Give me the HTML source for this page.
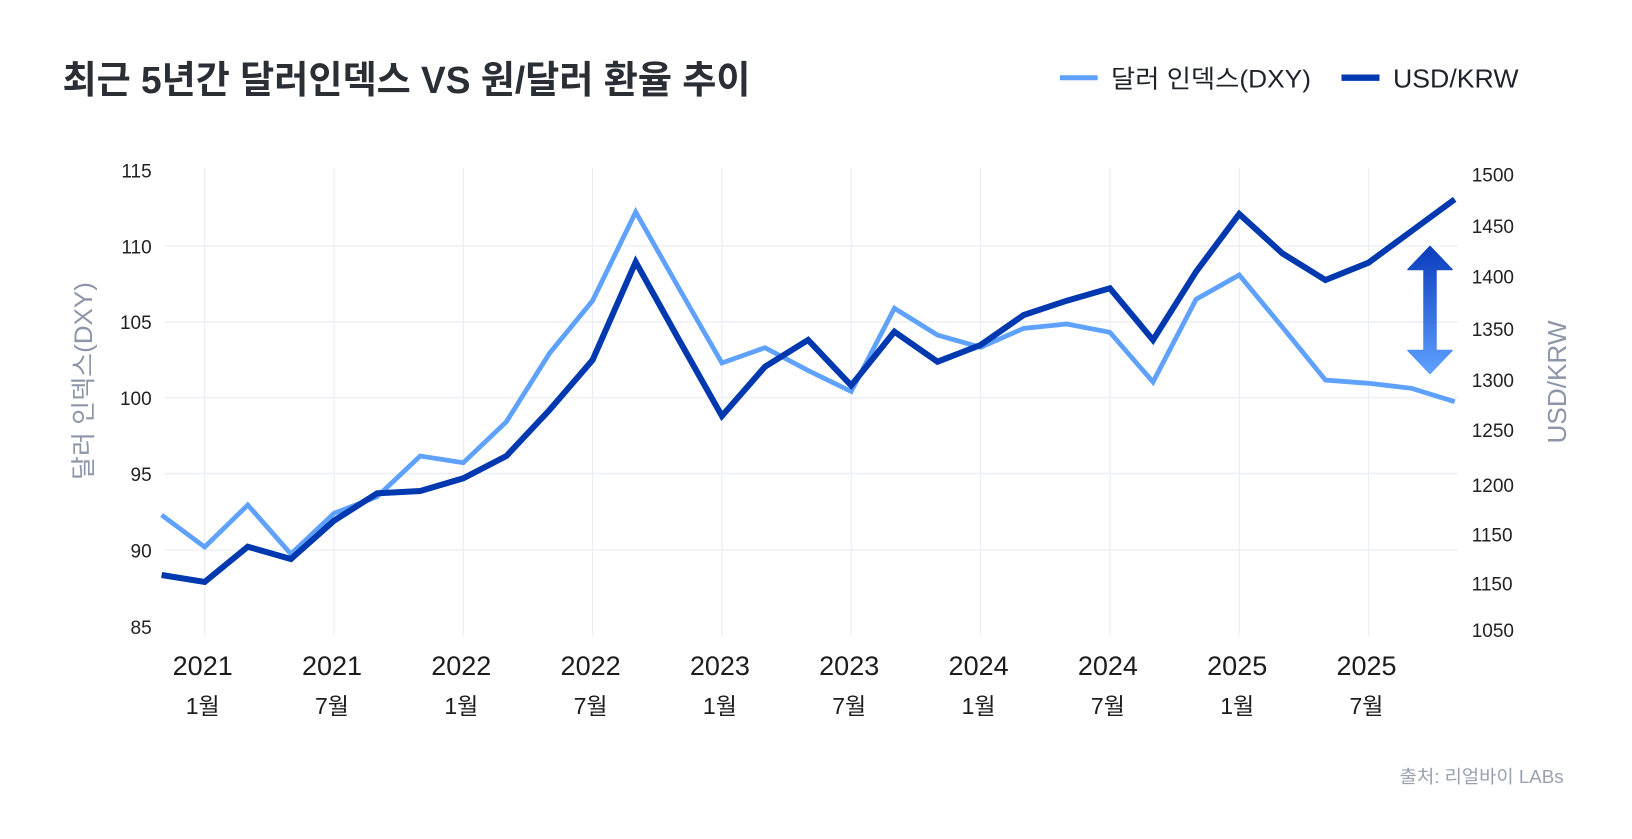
<!DOCTYPE html>
<html>
<head>
<meta charset="utf-8">
<style>
  html,body{margin:0;padding:0;background:#ffffff;}
  body{width:1632px;height:839px;overflow:hidden;}
  svg{display:block;}
  text{font-family:"Liberation Sans","Noto Sans CJK KR",sans-serif;}
</style>
</head>
<body>
<svg width="1632" height="839" viewBox="0 0 1632 839" xmlns="http://www.w3.org/2000/svg">
  <defs>
    <linearGradient id="arr" x1="0" y1="0" x2="0" y2="1">
      <stop offset="0" stop-color="#0a3cbc"/>
      <stop offset="1" stop-color="#5ea1ff"/>
    </linearGradient>
  </defs>
  <rect width="1632" height="839" fill="#ffffff"/>

  <!-- Title -->
  <text x="62.5" y="93" font-size="38" font-weight="bold" fill="#2a2e35" textLength="688" lengthAdjust="spacingAndGlyphs">최근 5년간 달러인덱스 VS 원/달러 환율 추이</text>

  <!-- Legend -->
  <line x1="1060" y1="77.7" x2="1097.7" y2="77.7" stroke="#5ea1ff" stroke-width="5"/>
  <text x="1111" y="87.7" font-size="25" fill="#1f2329" textLength="200" lengthAdjust="spacingAndGlyphs">달러 인덱스(DXY)</text>
  <line x1="1341.5" y1="77.7" x2="1379.5" y2="77.7" stroke="#0038b0" stroke-width="6.3"/>
  <text x="1393" y="87.7" font-size="26" fill="#1f2329" textLength="125.5" lengthAdjust="spacingAndGlyphs">USD/KRW</text>

  <!-- Vertical gridlines -->
  <g stroke="#eceef6" stroke-width="1.2">
    <line x1="204.7" y1="168" x2="204.7" y2="636"/>
    <line x1="334.0" y1="168" x2="334.0" y2="636"/>
    <line x1="463.3" y1="168" x2="463.3" y2="636"/>
    <line x1="592.6" y1="168" x2="592.6" y2="636"/>
    <line x1="721.9" y1="168" x2="721.9" y2="636"/>
    <line x1="851.2" y1="168" x2="851.2" y2="636"/>
    <line x1="980.6" y1="168" x2="980.6" y2="636"/>
    <line x1="1109.9" y1="168" x2="1109.9" y2="636"/>
    <line x1="1239.2" y1="168" x2="1239.2" y2="636"/>
    <line x1="1368.5" y1="168" x2="1368.5" y2="636"/>
  </g>
  <!-- Horizontal gridlines -->
  <g stroke="#eef0f6" stroke-width="1.6">
    <line x1="165" y1="246" x2="1458" y2="246"/>
    <line x1="165" y1="321.8" x2="1458" y2="321.8"/>
    <line x1="165" y1="397.7" x2="1458" y2="397.7"/>
    <line x1="165" y1="473.6" x2="1458" y2="473.6"/>
    <line x1="165" y1="550" x2="1458" y2="550"/>
  </g>

  <!-- Left axis labels -->
  <g font-size="19" fill="#222222" text-anchor="end">
    <text x="151.7" y="177.6">115</text>
    <text x="151.7" y="253.5">110</text>
    <text x="151.7" y="329.2">105</text>
    <text x="151.7" y="405.2">100</text>
    <text x="151.7" y="481">95</text>
    <text x="151.7" y="557.5">90</text>
    <text x="151.7" y="634">85</text>
  </g>
  <text transform="translate(92,381) rotate(-90)" text-anchor="middle" font-size="25" fill="#8c96a8" textLength="198" lengthAdjust="spacingAndGlyphs">달러 인덱스(DXY)</text>

  <!-- Right axis labels -->
  <g font-size="19" fill="#222222">
    <text x="1471.7" y="181.3">1500</text>
    <text x="1471.7" y="233">1450</text>
    <text x="1471.7" y="283.7">1400</text>
    <text x="1471.7" y="336">1350</text>
    <text x="1471.7" y="387">1300</text>
    <text x="1471.7" y="437">1250</text>
    <text x="1471.7" y="492">1200</text>
    <text x="1471.7" y="541.3">1150</text>
    <text x="1471.7" y="590.3">1150</text>
    <text x="1471.7" y="637">1050</text>
  </g>
  <text transform="translate(1566,382) rotate(-90)" text-anchor="middle" font-size="26" fill="#8c96a8" textLength="123" lengthAdjust="spacingAndGlyphs">USD/KRW</text>

  <!-- X axis labels -->
  <g font-size="27" fill="#1c1c1c" text-anchor="middle">
    <text x="202.7" y="675">2021</text>
    <text x="332.0" y="675">2021</text>
    <text x="461.3" y="675">2022</text>
    <text x="590.6" y="675">2022</text>
    <text x="719.9" y="675">2023</text>
    <text x="849.2" y="675">2023</text>
    <text x="978.6" y="675">2024</text>
    <text x="1107.9" y="675">2024</text>
    <text x="1237.2" y="675">2025</text>
    <text x="1366.5" y="675">2025</text>
  </g>
  <g font-size="23" fill="#1c1c1c" text-anchor="middle">
    <text x="202.7" y="714">1월</text>
    <text x="332.0" y="714">7월</text>
    <text x="461.3" y="714">1월</text>
    <text x="590.6" y="714">7월</text>
    <text x="719.9" y="714">1월</text>
    <text x="849.2" y="714">7월</text>
    <text x="978.6" y="714">1월</text>
    <text x="1107.9" y="714">7월</text>
    <text x="1237.2" y="714">1월</text>
    <text x="1366.5" y="714">7월</text>
  </g>

  <!-- DXY line (light) -->
  <polyline fill="none" stroke="#5ea1ff" stroke-width="4.8" stroke-linejoin="miter" stroke-miterlimit="10"
    points="161.6,515 204.7,547 247.8,505 290.9,554 334.0,513.3 377.1,496.7 420.2,456 463.3,462.7 506.4,421.7 549.5,353.3 592.6,300.7 635.7,212 678.8,288 721.9,363 765.0,347.7 808.1,370.5 851.2,391.5 894.4,308.3 937.5,335 980.6,347.3 1023.7,328.3 1066.8,324 1109.9,332.3 1153.0,382 1196.1,299.3 1239.2,275 1282.3,327 1325.4,380 1368.5,383.3 1411.6,388.3 1454.7,401.7"/>

  <!-- USD/KRW line (dark) -->
  <polyline fill="none" stroke="#0038b0" stroke-width="6" stroke-linejoin="miter" stroke-miterlimit="10"
    points="161.6,575 204.7,582 247.8,546.7 290.9,559 334.0,520.7 377.1,493.3 420.2,491 463.3,478.3 506.4,456 549.5,410 592.6,360 635.7,262 678.8,339.5 721.9,416 765.0,366.7 808.1,340 851.2,385.5 894.4,331.7 937.5,361.7 980.6,345 1023.7,315 1066.8,300.7 1109.9,288.3 1153.0,340 1196.1,271.7 1239.2,214 1282.3,253.3 1325.4,280 1368.5,262.7 1411.6,231 1454.7,199.3"/>

  <!-- Double arrow -->
  <polygon fill="url(#arr)" stroke="url(#arr)" stroke-width="1.5" stroke-linejoin="round"
    points="1430,246.5 1452,269.5 1436,269.5 1436,350.5 1452,350.5 1430,373.5 1408,350.5 1424,350.5 1424,269.5 1408,269.5"/>

  <!-- Source -->
  <text x="1563.7" y="783" font-size="18" fill="#98a1b0" text-anchor="end" textLength="164" lengthAdjust="spacingAndGlyphs">출처: 리얼바이 LABs</text>
</svg>
</body>
</html>
